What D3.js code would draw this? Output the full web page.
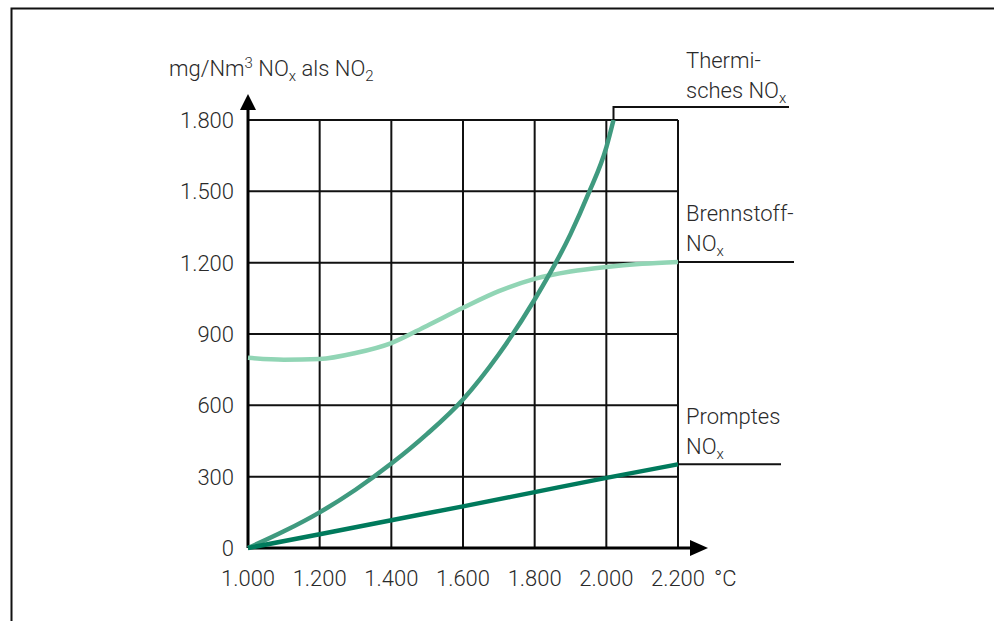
<!DOCTYPE html>
<html>
<head>
<meta charset="utf-8">
<script src="https://cdn.jsdelivr.net/npm/d3@7"></script>
<style>
  body { margin: 0; background: #fff; }
  text { font-family: Roboto, "Liberation Sans", sans-serif; font-weight: 300; fill: #2a2a2a; }
</style>
</head>
<body>
<div class="chart"></div>
<script>
// DATA
const X_TICKS = [1000, 1200, 1400, 1600, 1800, 2000, 2200];
const Y_TICKS = [0, 300, 600, 900, 1200, 1500, 1800];

const THERM_X = [1000, 1100, 1200, 1300, 1400, 1500, 1600, 1700, 1800, 1900, 1950, 2000, 2020];
const THERM_Y = [0, 70, 150, 245, 355, 480, 625, 815, 1045, 1320, 1490, 1685, 1800];

const BRENN_X = [1000, 1100, 1200, 1300, 1400, 1500, 1600, 1700, 1800, 1900, 2000, 2100, 2200];
const BRENN_Y = [800, 792, 795, 820, 862, 935, 1010, 1080, 1132, 1163, 1182, 1195, 1203];

const PROMPT_X = [1000, 1200, 1400, 1600, 1800, 2000, 2200];
const PROMPT_Y = [0, 58, 117, 175, 235, 295, 352];

// GLOBAL CONSTANTS
const FRAME_WIDTH = 994;
const FRAME_HEIGHT = 621;
const MARGINS = {left: 248, right: 316, top: 120, bottom: 73};
const GRAPH_WIDTH = FRAME_WIDTH - MARGINS.left - MARGINS.right;
const GRAPH_HEIGHT = FRAME_HEIGHT - MARGINS.top - MARGINS.bottom;

const FRAME = d3.select(".chart")
  .append("svg")
    .attr("width", FRAME_WIDTH)
    .attr("height", FRAME_HEIGHT);

// outer frame (top + left only)
FRAME.append("path")
  .attr("d", "M11.5,621 L11.5,8.5 L994,8.5")
  .attr("fill", "none")
  .attr("stroke", "#111")
  .attr("stroke-width", 2);

const X_SCALE = d3.scaleLinear().domain([1000, 2200]).range([0, GRAPH_WIDTH]);
const Y_SCALE = d3.scaleLinear().domain([0, 1800]).range([GRAPH_HEIGHT, 0]);

const G = FRAME.append("g")
  .attr("transform", "translate(" + MARGINS.left + "," + MARGINS.top + ")");

const fmt = (v) => d3.format(",")(v).replace(/,/g, ".");

// GRID
G.selectAll(".vgrid")
  .data(X_TICKS.slice(1))
  .enter()
  .append("line")
    .attr("x1", (d) => X_SCALE(d))
    .attr("x2", (d) => X_SCALE(d))
    .attr("y1", 0)
    .attr("y2", GRAPH_HEIGHT)
    .attr("stroke", "#111")
    .attr("stroke-width", 2);

G.selectAll(".hgrid")
  .data(Y_TICKS.slice(1))
  .enter()
  .append("line")
    .attr("x1", 0)
    .attr("x2", GRAPH_WIDTH)
    .attr("y1", (d) => Y_SCALE(d))
    .attr("y2", (d) => Y_SCALE(d))
    .attr("stroke", "#111")
    .attr("stroke-width", 2);

// AXES with arrows
G.append("line")
  .attr("x1", 0).attr("x2", 0)
  .attr("y1", GRAPH_HEIGHT).attr("y2", -12)
  .attr("stroke", "#000").attr("stroke-width", 3);
G.append("path")
  .attr("d", "M0,-26 L-8,-10 L8,-10 Z")
  .attr("fill", "#000");

G.append("line")
  .attr("x1", 0).attr("x2", GRAPH_WIDTH + 14)
  .attr("y1", GRAPH_HEIGHT).attr("y2", GRAPH_HEIGHT)
  .attr("stroke", "#000").attr("stroke-width", 3);
G.append("path")
  .attr("d", "M" + (GRAPH_WIDTH + 30) + "," + GRAPH_HEIGHT +
        " L" + (GRAPH_WIDTH + 12) + "," + (GRAPH_HEIGHT - 8) +
        " L" + (GRAPH_WIDTH + 12) + "," + (GRAPH_HEIGHT + 8) + " Z")
  .attr("fill", "#000");

// TICK LABELS
G.selectAll(".ylab")
  .data(Y_TICKS)
  .enter()
  .append("text")
    .attr("x", -14)
    .attr("y", (d) => Y_SCALE(d) + 8)
    .attr("text-anchor", "end")
    .attr("font-size", "22px")
    .text((d) => fmt(d));

G.selectAll(".xlab")
  .data(X_TICKS)
  .enter()
  .append("text")
    .attr("x", (d) => X_SCALE(d))
    .attr("y", GRAPH_HEIGHT + 38)
    .attr("text-anchor", "middle")
    .attr("font-size", "22px")
    .text((d) => fmt(d));

G.append("text")
  .attr("x", GRAPH_WIDTH + 36)
  .attr("y", GRAPH_HEIGHT + 38)
  .attr("font-size", "22px")
  .text("°C");

// Y title
const title = G.append("text")
  .attr("x", -79)
  .attr("y", -44)
  .attr("font-size", "22px");
title.append("tspan").text("mg/Nm");
title.append("tspan").attr("dy", -8).attr("font-size", "15px").text("3");
title.append("tspan").attr("dy", 8).text(" NO");
title.append("tspan").attr("dy", 5).attr("font-size", "15px").text("x");
title.append("tspan").attr("dy", -5).text(" als NO");
title.append("tspan").attr("dy", 5).attr("font-size", "15px").text("2");

// CURVES
const line = d3.line()
  .x((d) => X_SCALE(d[0]))
  .y((d) => Y_SCALE(d[1]))
  .curve(d3.curveMonotoneX);

const series = [
  {x: BRENN_X, y: BRENN_Y, color: "#91d5b5"},
  {x: THERM_X, y: THERM_Y, color: "#3f9a7f"},
  {x: PROMPT_X, y: PROMPT_Y, color: "#007a5c"}
];

series.forEach((s) => {
  G.append("path")
    .datum(d3.zip(s.x, s.y))
    .attr("d", line)
    .attr("fill", "none")
    .attr("stroke", s.color)
    .attr("stroke-width", 4.5)
    .attr("stroke-linecap", "butt");
});

// LEADERS + LABELS
const thermEnd = [THERM_X[THERM_X.length - 1], THERM_Y[THERM_Y.length - 1]];
G.append("path")
  .attr("d", "M" + X_SCALE(thermEnd[0]) + "," + Y_SCALE(thermEnd[1]) +
        " L" + X_SCALE(thermEnd[0]) + "," + (Y_SCALE(thermEnd[1]) - 13) +
        " L" + (GRAPH_WIDTH + 111) + "," + (Y_SCALE(thermEnd[1]) - 13))
  .attr("fill", "none").attr("stroke", "#111").attr("stroke-width", 2);

const brennEnd = BRENN_Y[BRENN_Y.length - 1];
G.append("line")
  .attr("x1", GRAPH_WIDTH).attr("x2", GRAPH_WIDTH + 116)
  .attr("y1", Y_SCALE(brennEnd)).attr("y2", Y_SCALE(brennEnd))
  .attr("stroke", "#111").attr("stroke-width", 2);

const promptEnd = PROMPT_Y[PROMPT_Y.length - 1];
G.append("line")
  .attr("x1", GRAPH_WIDTH).attr("x2", GRAPH_WIDTH + 103)
  .attr("y1", Y_SCALE(promptEnd)).attr("y2", Y_SCALE(promptEnd))
  .attr("stroke", "#111").attr("stroke-width", 2);

function label(lines, yTop) {
  lines.forEach((l, i) => {
    const t = G.append("text")
      .attr("x", GRAPH_WIDTH + 8)
      .attr("y", yTop + i * 30)
      .attr("font-size", "22px");
    t.append("tspan").text(l[0]);
    if (l[1]) {
      t.append("tspan").attr("dy", 5).attr("font-size", "15px").text(l[1]);
    }
  });
}
label([["Thermi-"], ["sches NO", "x"]], Y_SCALE(thermEnd[1]) - 52);
label([["Brennstoff-"], ["NO", "x"]], Y_SCALE(brennEnd) - 41);
label([["Promptes"], ["NO", "x"]], Y_SCALE(promptEnd) - 40);
</script>
</body>
</html>
